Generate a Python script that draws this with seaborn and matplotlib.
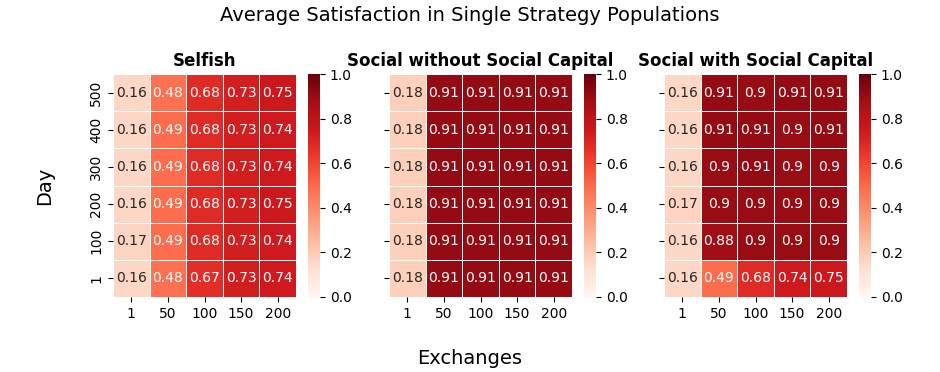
import matplotlib
matplotlib.use("Agg")
import matplotlib.pyplot as plt
import numpy as np
import pandas as pd
import seaborn as sns

# Axis labels (rows listed top to bottom)
days = ["500", "400", "300", "200", "100", "1"]
exchanges = ["1", "50", "100", "150", "200"]

selfish = [
    [0.16, 0.48, 0.68, 0.73, 0.75],
    [0.16, 0.49, 0.68, 0.73, 0.74],
    [0.16, 0.49, 0.68, 0.73, 0.74],
    [0.16, 0.49, 0.68, 0.73, 0.75],
    [0.17, 0.49, 0.68, 0.73, 0.74],
    [0.16, 0.48, 0.67, 0.73, 0.74],
]

social_no_capital = [
    [0.18, 0.91, 0.91, 0.91, 0.91],
    [0.18, 0.91, 0.91, 0.91, 0.91],
    [0.18, 0.91, 0.91, 0.91, 0.91],
    [0.18, 0.91, 0.91, 0.91, 0.91],
    [0.18, 0.91, 0.91, 0.91, 0.91],
    [0.18, 0.91, 0.91, 0.91, 0.91],
]

social_capital = [
    [0.16, 0.91, 0.90, 0.91, 0.91],
    [0.16, 0.91, 0.91, 0.90, 0.91],
    [0.16, 0.90, 0.91, 0.90, 0.90],
    [0.17, 0.90, 0.90, 0.90, 0.90],
    [0.16, 0.88, 0.90, 0.90, 0.90],
    [0.16, 0.49, 0.68, 0.74, 0.75],
]

titles = ["Selfish", "Social without Social Capital", "Social with Social Capital"]
datasets = [selfish, social_no_capital, social_capital]

fig = plt.figure(figsize=(9.4, 3.72), dpi=100)

lefts = [113, 389, 664]
for i, (title, data) in enumerate(zip(titles, datasets)):
    left = lefts[i]
    ax = fig.add_axes([left / 940, 1 - 297 / 372, 183 / 940, 223 / 372])
    cax = fig.add_axes([(left + 195) / 940, 1 - 297 / 372, 12 / 940, 223 / 372])
    df = pd.DataFrame(data, index=days, columns=exchanges)
    sns.heatmap(df, ax=ax, cbar_ax=cax, cmap="Reds", vmin=0, vmax=1,
                annot=True, linewidths=0.5, linecolor="white",
                annot_kws={"fontsize": 10})
    ax.set_title(title, fontweight="bold", fontsize=12)
    ax.tick_params(axis="both", labelsize=10)
    if i > 0:
        ax.set_yticklabels([])
    cax.tick_params(labelsize=10)

fig.suptitle("Average Satisfaction in Single Strategy Populations", fontsize=14, y=0.985)
fig.text(0.048, 0.5, "Day", rotation=90, fontsize=14, ha="center", va="center")
fig.text(0.5, 0.037, "Exchanges", fontsize=14, ha="center", va="center")

plt.savefig("out.png", dpi=100)
